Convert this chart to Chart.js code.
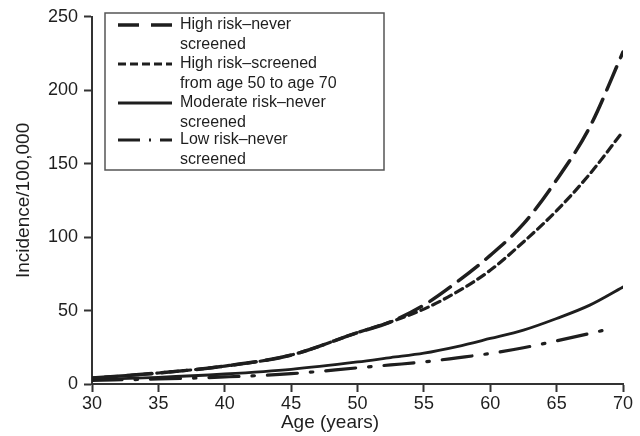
<!DOCTYPE html>
<html><head><meta charset="utf-8">
<script src="https://cdn.jsdelivr.net/npm/chart.js@4/dist/chart.umd.min.js"></script>
<style>html,body{margin:0;padding:0;background:#fff}#wrap{width:640px;height:436px;position:relative}</style>
</head><body><div id="wrap"><canvas id="c"></canvas></div>
<script>
const ages = [30, 35, 40, 45, 50, 52.5, 55, 57.5, 60, 62.5, 65, 67.5, 70];
const lowAges = [30, 35, 40, 45, 50, 52.5, 55, 57.5, 60, 62.5, 65, 67.5, 69];
const highNever = [4, 7.5, 12.2, 19.7, 35, 42.3, 53.7, 69.5, 87.6, 109, 139, 175, 226];
const highScreened = [4, 7.5, 12.2, 19.7, 35, 42.3, 51, 62.7, 77.4, 96.7, 118, 143, 172];
const moderateNever = [3, 4.5, 6.8, 10, 15, 18, 21, 25.5, 31, 36.7, 44.6, 53.7, 66];
const lowNever = [2.5, 3.4, 4.8, 7, 11, 13, 15, 17.8, 20.8, 24.7, 29.4, 34.4, 37.6];
const yTicks = [0, 50, 100, 150, 200, 250];
const xTicks = [30, 35, 40, 45, 50, 55, 60, 65, 70];
const xTitle = 'Age (years)';
const yTitle = 'Incidence/100,000';
const legendText = [
  ['High risk\u2013never', 'screened'],
  ['High risk\u2013screened', 'from age 50 to age 70'],
  ['Moderate risk\u2013never', 'screened'],
  ['Low risk\u2013never', 'screened']
];
const ink = '#1e1e1e';
const FONT = "'Liberation Sans', Arial, Helvetica, sans-serif";

function pts(xs, ys) { return xs.map((x, i) => ({x: x, y: ys[i]})); }

const styles = [
  {dash: [25, 10], legendDash: [21, 12, 21], width: 3.5},
  {dash: [8, 5], legendDash: [8, 4], width: 3.2},
  {dash: [], legendDash: [], width: 2.8},
  {dash: [30, 13, 2.5, 13], legendDash: [22, 9, 2, 9, 12], width: 3.2}
];
const series = [
  pts(ages, highNever),
  pts(ages, highScreened),
  pts(ages, moderateNever),
  pts(lowAges, lowNever)
];

const legendPlugin = {
  id: 'boxLegend',
  afterDraw(chart) {
    const ctx = chart.ctx;
    ctx.save();
    const bx = 105, by = 13, bw = 279, bh = 157;
    ctx.strokeStyle = '#555';
    ctx.lineWidth = 1.5;
    ctx.strokeRect(bx, by, bw, bh);
    ctx.font = '16px ' + FONT;
    ctx.fillStyle = ink;
    ctx.textBaseline = 'middle';
    const rowY = [25, 64, 103, 140];
    const lh = 19.5;
    chart.data.datasets.forEach((ds, i) => {
      const y = rowY[i];
      ctx.beginPath();
      ctx.setLineDash(styles[i].legendDash);
      ctx.lineWidth = ds.borderWidth;
      ctx.strokeStyle = ds.borderColor;
      ctx.moveTo(118, y);
      ctx.lineTo(172, y);
      ctx.stroke();
      ctx.setLineDash([]);
      legendText[i].forEach((t, j) => ctx.fillText(t, 180, y + j * lh));
    });
    // x-axis title (placed left of centre, as in the original)
    ctx.font = '19px ' + FONT;
    ctx.textAlign = 'center';
    ctx.fillText(xTitle, 330, 423);
    ctx.restore();
  }
};

new Chart(document.getElementById('c'), {
  type: 'line',
  data: {
    datasets: series.map((d, i) => ({
      label: legendText[i].join(' '),
      data: d,
      borderColor: ink,
      borderWidth: styles[i].width,
      borderDash: styles[i].dash,
      borderCapStyle: 'round',
      pointRadius: 0,
      fill: false,
      cubicInterpolationMode: 'monotone'
    }))
  },
  options: {
    responsive: true,
    maintainAspectRatio: false,
    animation: false,
    layout: {padding: {left: 0, right: 17, top: 16, bottom: 0}},
    plugins: {legend: {display: false}, tooltip: {enabled: false}},
    scales: {
      x: {
        type: 'linear', min: 30, max: 70,
        afterBuildTicks(s) { s.ticks = xTicks.map(v => ({value: v})); },
        afterFit(s) { s.height = 52; },
        grid: {drawOnChartArea: false, drawTicks: true, tickLength: 8, tickColor: '#333', tickWidth: 2},
        border: {color: '#333', width: 2},
        ticks: {color: ink, font: {size: 18, family: FONT}, padding: 1, maxRotation: 0},
        title: {display: false}
      },
      y: {
        type: 'linear', min: 0, max: 250,
        afterBuildTicks(s) { s.ticks = yTicks.map(v => ({value: v})); },
        afterFit(s) { s.width = 92; },
        grid: {drawOnChartArea: false, drawTicks: true, tickLength: 8, tickColor: '#333', tickWidth: 2},
        border: {color: '#333', width: 2},
        ticks: {color: ink, font: {size: 18, family: FONT}, padding: 6},
        title: {display: true, text: yTitle, color: ink, font: {size: 19, family: FONT}, padding: {top: 12, bottom: 0}}
      }
    }
  },
  plugins: [legendPlugin]
});
</script>
</body></html>
